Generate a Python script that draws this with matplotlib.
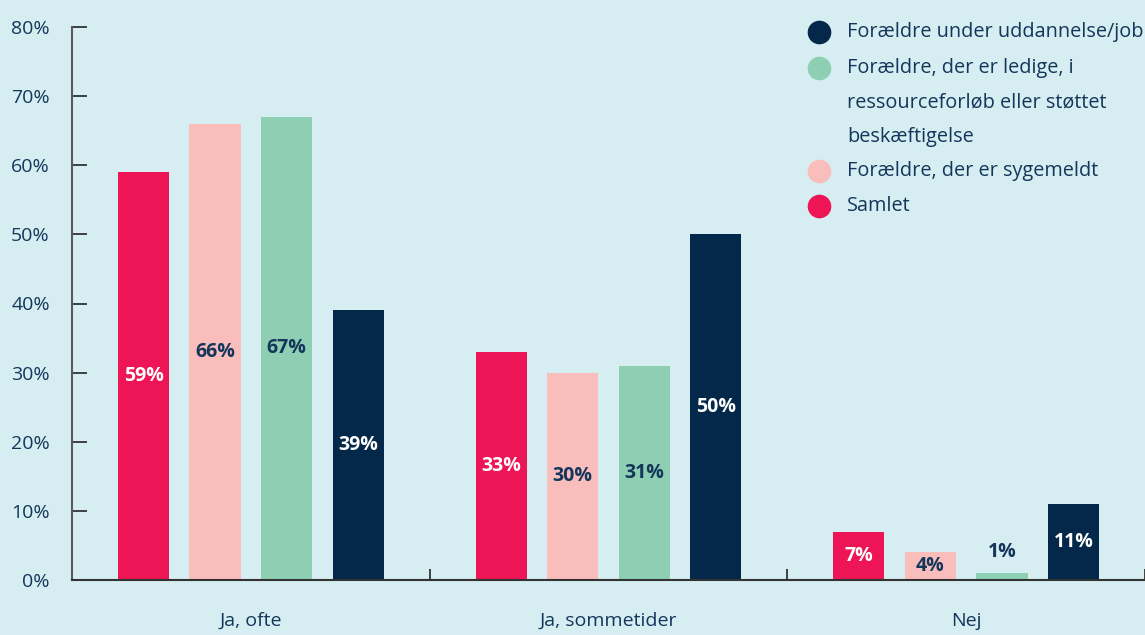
import matplotlib.pyplot as plt
from matplotlib.lines import Line2D
import numpy as np

plt.rcParams['font.family'] = ['Open Sans', 'DejaVu Sans']

# data
kategorier = ['Ja, ofte', 'Ja, sommetider', 'Nej']
serier = ['Samlet', 'Forældre, der er sygemeldt',
          'Forældre, der er ledige, i\nressourceforløb eller støttet\nbeskæftigelse',
          'Forældre under uddannelse/job']
samlet = [59, 33, 7]
sygemeldt = [66, 30, 4]
ledige = [67, 31, 1]
uddannelse = [39, 50, 11]
vaerdier = [samlet, sygemeldt, ledige, uddannelse]

farver = ['#EE1556', '#F9BDBC', '#8ECFB4', '#03284A']
tekstfarver = ['white', '#14365A', '#14365A', 'white']
bg = '#D6EEF2'
txt = '#14365A'

fig = plt.figure(figsize=(11.45, 6.35), dpi=100, facecolor=bg)
ax = fig.add_axes([72/1145, 55/635, 1 - 72/1145, (580-27)/635])
ax.set_facecolor(bg)

x = np.arange(len(kategorier))
offsets = [-0.3, -0.1, 0.1, 0.3]
w = 0.143
for i, (vals, c, tc) in enumerate(zip(vaerdier, farver, tekstfarver)):
    bars = ax.bar(x + offsets[i], vals, width=w, color=c, zorder=2)
    for b, v in zip(bars, vals):
        # små søjler får etiketten over søjlen
        if v < 3:
            ax.text(b.get_x() + b.get_width()/2, v + 3, f'{v}%', ha='center', va='center',
                    color=txt, fontsize=14, fontweight='bold')
        else:
            ax.text(b.get_x() + b.get_width()/2, v/2, f'{v}%', ha='center', va='center',
                    color=tc, fontsize=14, fontweight='bold')

ax.set_xlim(-0.5, 2.5)
ax.set_ylim(0, 80)
ax.set_yticks(range(0, 81, 10))
ax.set_yticklabels([f'{v}%' for v in range(0, 81, 10)])
ax.set_xticks(x)
ax.set_xticklabels(kategorier)
ax.set_xticks([0.5, 1.5, 2.5], minor=True)
ax.tick_params(axis='x', which='major', length=0, pad=23, labelsize=14, labelcolor=txt)
ax.tick_params(axis='x', which='minor', direction='in', length=8, width=1.3, color='#333333')
ax.tick_params(axis='y', direction='in', length=11, width=1.3, color='#333333',
               pad=16, labelsize=14, labelcolor=txt)
for s in ['top', 'right']:
    ax.spines[s].set_visible(False)
ax.spines['left'].set_color('#5a5a5a')
ax.spines['left'].set_linewidth(1.5)
ax.spines['bottom'].set_color('#333333')
ax.spines['bottom'].set_linewidth(1.5)

# legend tegnet manuelt
leg_rows = [(3, 32), (2, 68), (1, 171), (0, 206)]
for idx, ypix in leg_rows:
    fy = 1 - ypix/635
    fig.add_artist(Line2D([819/1145], [fy], marker='o', markersize=16, color=farver[idx],
                          linestyle='none', transform=fig.transFigure))
    for k, line in enumerate(serier[idx].split('\n')):
        fig.text(847/1145, 1 - (ypix + 34.5*k)/635, line, ha='left', va='center',
                 fontsize=14.3, color=txt)

fig.savefig('out.png', dpi=100, facecolor=bg)
